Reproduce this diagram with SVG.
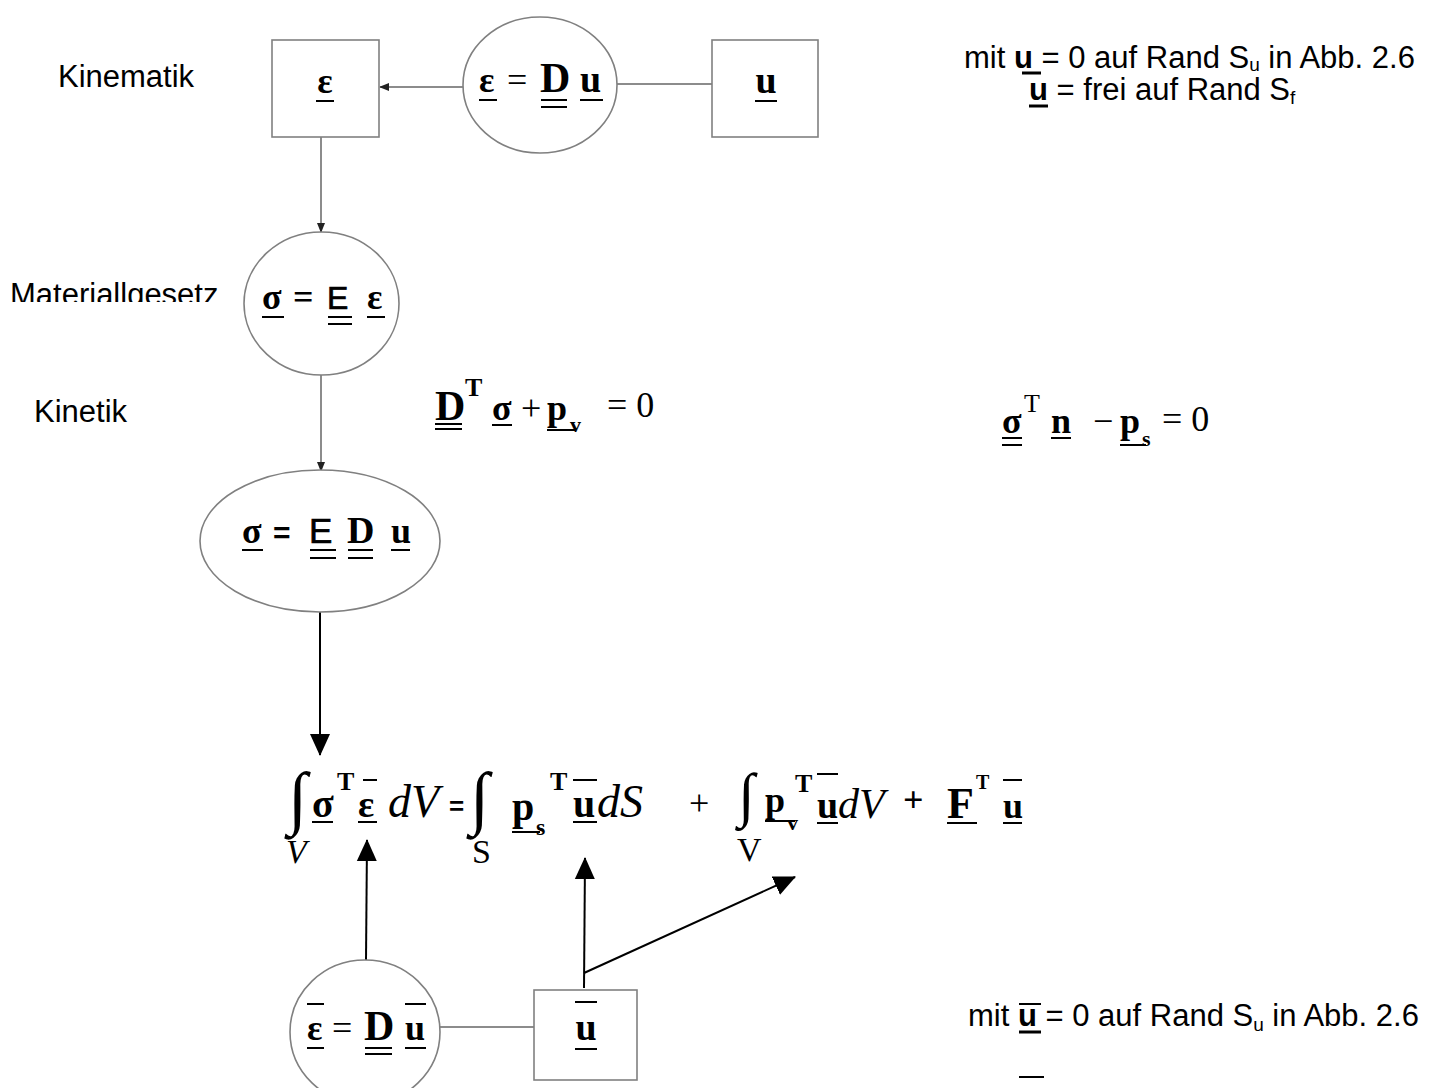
<svg xmlns="http://www.w3.org/2000/svg" width="1455" height="1088" viewBox="0 0 1455 1088">
<style>
.lbl{font-family:"Liberation Sans",Arial,sans-serif;font-size:31px;fill:#000}
.rt{font-family:"Liberation Sans",Arial,sans-serif;font-size:31px;fill:#000}
.m{font-family:"Liberation Serif","Times New Roman",serif;font-weight:bold;fill:#000}
.mr{font-family:"Liberation Serif","Times New Roman",serif;fill:#000}
.mi{font-family:"Liberation Serif","Times New Roman",serif;font-style:italic;fill:#000}
.sans{font-family:"Liberation Sans",Arial,sans-serif;fill:#000}
.heavy{stroke:#000;stroke-width:0.7}
.node{fill:#fff;stroke:#808080;stroke-width:1.6}
.ul{stroke:#000;stroke-width:2;fill:none}
.ulb{stroke:#000;stroke-width:3;fill:none}
.thin{stroke:#666;stroke-width:1.5;fill:none}
.thick{stroke:#000;stroke-width:2;fill:none}
</style>
<defs>
<marker id="sa" markerWidth="10" markerHeight="10" refX="9" refY="5" orient="auto" markerUnits="userSpaceOnUse"><path d="M0,1 L10,5 L0,9 z" fill="#222"/></marker>
<marker id="ba" markerWidth="22" markerHeight="22" refX="21" refY="11" orient="auto" markerUnits="userSpaceOnUse"><path d="M0,1 L22,11 L0,21 z" fill="#000"/></marker>
<clipPath id="clipMat"><rect x="0" y="250" width="240" height="52"/></clipPath>
</defs>

<g id="connectors">
<line class="thin" x1="463" y1="87" x2="380" y2="87" marker-end="url(#sa)"/>
<line class="thin" x1="321" y1="137" x2="321" y2="232" marker-end="url(#sa)"/>
<line class="thin" x1="617" y1="84" x2="712" y2="84"/>
<line class="thin" x1="321" y1="375" x2="321" y2="471" marker-end="url(#sa)"/>
<line class="thick" x1="320" y1="612" x2="320" y2="755" marker-end="url(#ba)"/>
<line class="thick" x1="366" y1="960" x2="367" y2="840" marker-end="url(#ba)"/>
<line class="thick" x1="584" y1="988" x2="585" y2="858" marker-end="url(#ba)"/>
<line class="thick" x1="584" y1="973" x2="795" y2="877" marker-end="url(#ba)"/>
<line class="thin" x1="440" y1="1027" x2="534" y2="1027"/>
</g>

<g id="labels">
<text class="lbl" x="58" y="87">Kinematik</text>
<text class="lbl" x="10" y="305" clip-path="url(#clipMat)">Materiallgesetz</text>
<text class="lbl" x="34" y="422">Kinetik</text>
</g>

<g id="node-eps">
<rect class="node" x="272" y="40" width="107" height="97"/>
<text class="m" x="325" y="93" font-size="36" text-anchor="middle">ε</text>
<line class="ul" x1="316" y1="101" x2="334" y2="101"/>
</g>

<g id="node-kin">
<ellipse class="node" cx="540" cy="85" rx="77" ry="68"/>
<text class="m" x="479" y="92" font-size="36">ε</text>
<text class="mr" x="507" y="92" font-size="36">=</text>
<text class="m" x="540" y="92" font-size="42">D</text>
<text class="m" x="580" y="92" font-size="38">u</text>
<line class="ul" x1="479" y1="100" x2="497" y2="100"/>
<line class="ul" x1="541" y1="100" x2="567" y2="100"/>
<line class="ul" x1="541" y1="107" x2="567" y2="107"/>
<line class="ul" x1="580" y1="100" x2="603" y2="100"/>
</g>

<g id="node-u">
<rect class="node" x="712" y="40" width="106" height="97"/>
<text class="m" x="766" y="93" font-size="38" text-anchor="middle">u</text>
<line class="ul" x1="755" y1="101" x2="777" y2="101"/>
</g>

<g id="text-bc1">
<text class="rt" x="964" y="68">mit <tspan font-weight="bold">u</tspan> = 0 auf Rand S<tspan font-size="19" dy="3">u</tspan><tspan dy="-3"> in Abb. 2.6</tspan></text>
<line class="ulb" x1="1022" y1="73" x2="1041" y2="73"/>
<text class="rt" x="1029" y="100"><tspan font-weight="bold">u</tspan> = frei auf Rand S<tspan font-size="19" dy="4">f</tspan></text>
<line class="ulb" x1="1029" y1="106" x2="1048" y2="106"/>
</g>

<g id="node-mat">
<ellipse class="node" cx="321.5" cy="303.5" rx="77.5" ry="71.5"/>
<text class="m" x="262" y="309" font-size="36">σ</text>
<text class="m" x="293" y="309" font-size="36">=</text>
<text class="sans heavy" x="327" y="309" font-size="32">E</text>
<text class="m" x="367" y="309" font-size="36">ε</text>
<line class="ul" x1="262" y1="317" x2="284" y2="317"/>
<line class="ul" x1="328" y1="317" x2="352" y2="317"/>
<line class="ul" x1="328" y1="324" x2="352" y2="324"/>
<line class="ul" x1="367" y1="317" x2="385" y2="317"/>
</g>

<g id="eq-kinetik1">
<text class="m" x="435" y="420" font-size="42">D</text>
<text class="m" x="465" y="396" font-size="26">T</text>
<text class="m" x="492" y="420" font-size="36">σ</text>
<text class="mr" x="521" y="420" font-size="36">+</text>
<text class="m" x="547" y="420" font-size="36">p</text>
<text class="m" x="570" y="432" font-size="22">v</text>
<text class="mr" x="607" y="417" font-size="36">= 0</text>
<line class="ul" x1="435" y1="424" x2="462" y2="424"/>
<line class="ul" x1="435" y1="429" x2="462" y2="429"/>
<line class="ul" x1="492" y1="425" x2="512" y2="425"/>
<line class="ul" x1="547" y1="430" x2="575" y2="430"/>
</g>

<g id="eq-kinetik2">
<text class="m" x="1002" y="433" font-size="36">σ</text>
<text class="mr" x="1024" y="412" font-size="26">T</text>
<text class="m" x="1051" y="433" font-size="36">n</text>
<text class="mr" x="1093" y="433" font-size="36">−</text>
<text class="m" x="1120" y="433" font-size="36">p</text>
<text class="m" x="1142" y="446" font-size="22">s</text>
<text class="mr" x="1162" y="431" font-size="36">= 0</text>
<line class="ul" x1="1002" y1="438" x2="1022" y2="438"/>
<line class="ul" x1="1002" y1="445" x2="1022" y2="445"/>
<line class="ul" x1="1051" y1="438" x2="1071" y2="438"/>
<line class="ul" x1="1120" y1="445" x2="1146" y2="445"/>
</g>

<g id="node-sigma">
<ellipse class="node" cx="320" cy="541" rx="120" ry="71"/>
<text class="m" x="242" y="543" font-size="36">σ</text>
<text class="sans" x="273" y="543" font-size="30" font-weight="bold">=</text>
<text class="sans heavy" x="309" y="543" font-size="35">E</text>
<text class="m" x="347" y="543" font-size="38">D</text>
<text class="m" x="391" y="543" font-size="36">u</text>
<line class="ul" x1="242" y1="550" x2="263" y2="550"/>
<line class="ul" x1="310" y1="550" x2="336" y2="550"/>
<line class="ul" x1="310" y1="558" x2="336" y2="558"/>
<line class="ul" x1="348" y1="550" x2="373" y2="550"/>
<line class="ul" x1="348" y1="558" x2="373" y2="558"/>
<line class="ul" x1="391" y1="550" x2="410" y2="550"/>
</g>

<g id="eq-virtual">
<text class="mr" x="288" y="821" font-size="70">∫</text>
<text class="mi" x="286" y="863" font-size="34">V</text>
<text class="m" x="312" y="817" font-size="40">σ</text>
<text class="m" x="337" y="790" font-size="26">T</text>
<text class="m" x="358" y="817" font-size="38">ε</text>
<line class="ul" x1="312" y1="822" x2="333" y2="822"/>
<line class="ul" x1="358" y1="822" x2="377" y2="822"/>
<line class="ul" x1="363" y1="780" x2="377" y2="780"/>
<text class="mi" x="388" y="817" font-size="46">dV</text>
<text class="sans" x="449" y="815" font-size="26" font-weight="bold">=</text>
<text class="mr" x="470" y="821" font-size="70">∫</text>
<text class="mr" x="472" y="863" font-size="34">S</text>
<text class="m" x="512" y="820" font-size="40">p</text>
<text class="m" x="536" y="835" font-size="24">s</text>
<line class="ul" x1="512" y1="832" x2="540" y2="832"/>
<text class="m" x="550" y="790" font-size="26">T</text>
<text class="m" x="573" y="817" font-size="40">u</text>
<line class="ul" x1="573" y1="822" x2="597" y2="822"/>
<line class="ul" x1="573" y1="780" x2="597" y2="780"/>
<text class="mi" x="597" y="817" font-size="46">dS</text>
<text class="mr" x="689" y="815" font-size="36">+</text>
<text class="mr" x="738" y="815" font-size="60">∫</text>
<text class="mr" x="737" y="861" font-size="34">V</text>
<text class="m" x="765" y="812" font-size="36">p</text>
<text class="m" x="787" y="830" font-size="22">v</text>
<line class="ul" x1="765" y1="821" x2="795" y2="821"/>
<text class="m" x="795" y="792" font-size="26">T</text>
<text class="m" x="817" y="818" font-size="38">u</text>
<line class="ul" x1="817" y1="823" x2="838" y2="823"/>
<line class="ul" x1="817" y1="774" x2="838" y2="774"/>
<text class="mi" x="838" y="818" font-size="42">dV</text>
<text class="m" x="903" y="812" font-size="36">+</text>
<text class="m" x="947" y="818" font-size="44">F</text>
<line class="ul" x1="947" y1="823" x2="977" y2="823"/>
<text class="m" x="976" y="789" font-size="20">T</text>
<text class="m" x="1003" y="818" font-size="36">u</text>
<line class="ul" x1="1003" y1="823" x2="1022" y2="823"/>
<line class="ul" x1="1003" y1="780" x2="1022" y2="780"/>
</g>

<g id="node-virt-kin">
<ellipse class="node" cx="365" cy="1032" rx="75" ry="72"/>
<text class="m" x="307" y="1040" font-size="36">ε</text>
<text class="mr" x="332" y="1040" font-size="36">=</text>
<text class="m" x="364" y="1040" font-size="42">D</text>
<text class="m" x="405" y="1040" font-size="36">u</text>
<line class="ul" x1="307" y1="1004" x2="324" y2="1004"/>
<line class="ul" x1="307" y1="1048" x2="324" y2="1048"/>
<line class="ul" x1="365" y1="1048" x2="392" y2="1048"/>
<line class="ul" x1="365" y1="1054" x2="392" y2="1054"/>
<line class="ul" x1="405" y1="1004" x2="426" y2="1004"/>
<line class="ul" x1="405" y1="1048" x2="426" y2="1048"/>
</g>

<g id="node-ubar">
<rect class="node" x="534" y="990" width="103" height="90"/>
<text class="m" x="586" y="1040" font-size="38" text-anchor="middle">u</text>
<line class="ul" x1="575" y1="1002" x2="597" y2="1002"/>
<line class="ul" x1="575" y1="1049" x2="597" y2="1049"/>
</g>

<g id="text-bc2">
<text class="rt" x="968" y="1026">mit <tspan font-weight="bold">u</tspan> = 0 auf Rand S<tspan font-size="19" dy="5">u</tspan><tspan dy="-5"> in Abb. 2.6</tspan></text>
<line class="ul" x1="1019" y1="1004" x2="1041" y2="1004"/>
<line class="ulb" x1="1019" y1="1032" x2="1041" y2="1032"/>
<line class="ul" x1="1019" y1="1077" x2="1044" y2="1077"/>
</g>
</svg>
